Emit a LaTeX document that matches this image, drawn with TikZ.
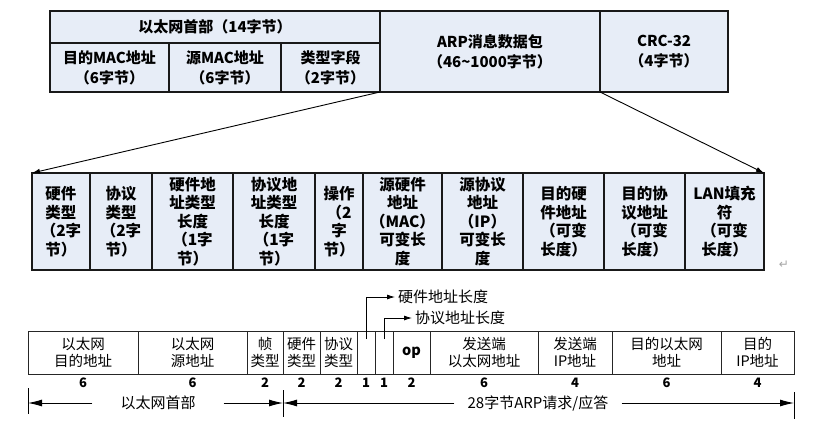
\documentclass[tikz,border=0pt]{standalone}
\usepackage{fontspec}
\setmainfont{Noto Sans CJK SC}
\newfontfamily\dejavu{DejaVu Sans}
\usetikzlibrary{arrows.meta}
\definecolor{cellblue}{RGB}{231,237,247}
\newcommand\mkcell[7]{\node[#1, minimum width=#5pt-#3pt, minimum height=#6pt-#4pt] (#2) at (#3,#4) {#7};}
\begin{document}
\begin{tikzpicture}[x=1pt,y=-1pt,
  base/.style={inner sep=0pt, outer sep=0pt, anchor=north west, align=center},
  topcell/.style={base, draw=black!90, line width=1.1pt, fill=cellblue, font=\fontsize{15}{20}\selectfont\bfseries},
  midcell/.style={base, draw=black!90, line width=1.1pt, fill=cellblue, font=\fontsize{15.5}{18.5}\selectfont\bfseries},
  botcell/.style={base, draw=black!85, line width=0.9pt, fill=white, font=\fontsize{14.5}{17}\selectfont},
  num/.style={inner sep=0pt, anchor=north, font=\fontsize{13}{13}\selectfont\bfseries},
  brk/.style={inner ysep=0pt, font=\fontsize{15}{15}\selectfont},
  lbl/.style={inner ysep=0pt, inner xsep=3pt, anchor=west, font=\fontsize{15}{15}\selectfont},
  callarrow/.style={line width=0.8pt, -{Latex[length=8pt,width=5pt]}},
  bigarrow/.style={line width=0.9pt, -{Latex[length=14pt,width=7pt]}},
  tick/.style={line width=0.9pt}
]
\fill[white] (0,0) rectangle (814,429);
\useasboundingbox (0,0) rectangle (814,429);

% ---------- top table ----------
\mkcell{topcell}{hdr}{50}{11}{380}{43}{以太网首部（14字节）}
\mkcell{topcell}{dmac}{50}{43}{169}{92}{目的MAC地址\\（6字节）}
\mkcell{topcell}{smac}{169}{43}{281}{92}{源MAC地址\\（6字节）}
\mkcell{topcell}{typ}{281}{43}{380}{92}{类型字段\\（2字节）}
\mkcell{topcell}{arp}{380}{11}{600}{92}{ARP消息数据包\\（46{\char"7E}1000字节）}
\mkcell{topcell}{crc}{600}{11}{728}{92}{CRC-32\\（4字节）}

% ---------- middle table ----------
\mkcell{midcell}{m1}{32}{173}{90}{270}{硬件\\类型\\（2字\\节）}
\mkcell{midcell}{m2}{90}{173}{152}{270}{协议\\类型\\（2字\\节）}
\mkcell{midcell}{m3}{152}{173}{233}{270}{硬件地\\址类型\\长度\\（1字\\节）}
\mkcell{midcell}{m4}{233}{173}{315}{270}{协议地\\址类型\\长度\\（1字\\节）}
\mkcell{midcell}{m5}{315}{173}{363}{270}{操作\\（2\\字\\节）}
\mkcell{midcell}{m6}{363}{173}{442}{270}{源硬件\\地址\\（MAC）\\可变长\\度}
\mkcell{midcell}{m7}{442}{173}{523}{270}{源协议\\地址\\（IP）\\可变长\\度}
\mkcell{midcell}{m8}{523}{173}{604}{270}{目的硬\\件地址\\（可变\\长度）}
\mkcell{midcell}{m9}{604}{173}{685}{270}{目的协\\议地址\\（可变\\长度）}
\mkcell{midcell}{m10}{685}{173}{764}{270}{LAN填充\\符\\（可变\\长度）}

\draw[line width=0.9pt, -{Latex[length=8pt,width=5pt]}] (arp.south west) -- (m1.north west);
\draw[line width=0.9pt, -{Latex[length=8pt,width=5pt]}] (arp.south east) -- (m10.north east);

\node[text=black!35, inner sep=0pt, font=\dejavu\fontsize{12}{12}\selectfont] (ret) at (784,265) {↵};

% ---------- bottom table ----------
\mkcell{botcell}{c1}{28}{331}{138}{374}{以太网\\目的地址}
\mkcell{botcell}{c2}{138}{331}{247}{374}{以太网\\源地址}
\mkcell{botcell}{c3}{247}{331}{283}{374}{帧\\类型}
\mkcell{botcell}{c4}{283}{331}{320}{374}{硬件\\类型}
\mkcell{botcell}{c5}{320}{331}{357}{374}{协议\\类型}
\mkcell{botcell}{c6}{357}{331}{375}{374}{}
\mkcell{botcell}{c7}{375}{331}{393}{374}{}
\mkcell{botcell}{c8}{393}{331}{430}{374}{\bfseries op}
\mkcell{botcell}{c9}{430}{331}{538}{374}{发送端\\以太网地址}
\mkcell{botcell}{c10}{538}{331}{612}{374}{发送端\\IP地址}
\mkcell{botcell}{c11}{612}{331}{721}{374}{目的以太网\\地址}
\mkcell{botcell}{c12}{721}{331}{794}{374}{目的\\IP地址}

\foreach \c/\n in {c1/6,c2/6,c3/2,c4/2,c5/2,c6/1,c7/1,c8/2,c9/6,c10/4,c11/6,c12/4}
  \node[num] (n\c) at ([yshift=-4pt]\c.south) {\n};

% callouts
\coordinate (p1) at ([yshift=-8pt]c6.north);
\coordinate (p2) at ([yshift=-8pt]c7.north);
\node[lbl] (hl) at (395,297) {硬件地址长度};
\node[lbl] (pl) at (412,318) {协议地址长度};
\draw[callarrow] (p1) |- (hl.west);
\draw[callarrow] (p2) |- (pl.west);

% bottom bracket
\coordinate (xL) at (28,403);
\coordinate (xM) at (283,403);
\coordinate (xR) at (794,403);
\draw[tick] ([yshift=15pt]xL) -- ([yshift=-11pt]xL);
\draw[tick] ([yshift=13pt]xM) -- ([yshift=-14pt]xM);
\draw[tick] ([yshift=11pt]xR) -- ([yshift=-16pt]xR);
\node[brk, inner xsep=28pt] (eh) at (158,403) {以太网首部};
\node[brk, inner xsep=13pt] (aq) at (538,403) {28字节ARP请求/应答};
\draw[bigarrow] (eh.west) -- (xL);
\draw[bigarrow] (eh.east) -- (xM);
\draw[bigarrow] (aq.west) -- (xM);
\draw[bigarrow] (aq.east) -- (xR);
\end{tikzpicture}
\end{document}
